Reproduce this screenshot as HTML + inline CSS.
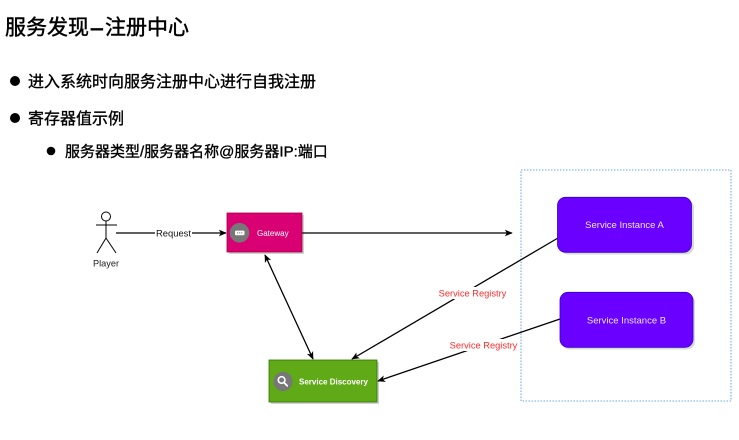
<!DOCTYPE html>
<html>
<head>
<meta charset="utf-8">
<style>
  html, body { margin:0; padding:0; background:#ffffff; }
  body { width:739px; height:440px; overflow:hidden; position:relative; }
  svg { position:absolute; left:0; top:0; }
  .cjk { font-family: "Liberation Sans", "Noto Sans CJK SC", "WenQuanYi Zen Hei", sans-serif; fill:#000; stroke:#000; stroke-width:0.35; }
  .lat { font-family: "Liberation Sans", Arial, sans-serif; }
</style>
</head>
<body>
<svg width="739" height="440" viewBox="0 0 739 440" xmlns="http://www.w3.org/2000/svg">
  <defs>
    <marker id="ah" viewBox="0 0 10 10" refX="9" refY="5" markerWidth="8" markerHeight="8" orient="auto" markerUnits="userSpaceOnUse">
      <path d="M0,0.8 L10,5 L0,9.2 L2.6,5 Z" fill="#000"/>
    </marker>
    <marker id="ahs" viewBox="0 0 10 10" refX="1" refY="5" markerWidth="8" markerHeight="8" orient="auto" markerUnits="userSpaceOnUse">
      <path d="M10,0.8 L0,5 L10,9.2 L7.4,5 Z" fill="#000"/>
    </marker>
  </defs>

  <!-- Title -->
  <text class="cjk" x="5" y="34.5" font-size="21" style="stroke-width:0.45">服务发现</text>
  <text class="cjk" x="91" y="34.5" font-size="21" style="stroke-width:0.9">–</text>
  <text class="cjk" x="105" y="34.5" font-size="21" style="stroke-width:0.45">注册中心</text>

  <!-- Bullets -->
  <circle cx="15" cy="81" r="5" fill="#000"/>
  <text class="cjk" x="28" y="87" font-size="16">进入系统时向服务注册中心进行自我注册</text>

  <circle cx="15" cy="118" r="5" fill="#000"/>
  <text class="cjk" x="28" y="124" font-size="16">寄存器值示例</text>

  <circle cx="51" cy="151" r="4.3" fill="#000"/>
  <text class="cjk" x="65" y="156.5" font-size="15">服务器类型/服务器名称@服务器IP:端口</text>

  <!-- Container (dotted) -->
  <rect x="521" y="170" width="210" height="231" fill="none" stroke="#6aa9ec" stroke-width="1.1" stroke-dasharray="1.5,1.5"/>

  <!-- Player -->
  <g stroke="#000" stroke-width="1" fill="none">
    <circle cx="106" cy="216.5" r="4.5" fill="#fff"/>
    <line x1="106" y1="221" x2="106" y2="238"/>
    <line x1="96" y1="225" x2="117" y2="225"/>
    <line x1="106" y1="238" x2="97" y2="253"/>
    <line x1="106" y1="238" x2="116" y2="253"/>
  </g>
  <text class="lat" x="106" y="266.5" font-size="9.2" text-anchor="middle" fill="#222">Player</text>

  <!-- Request edge -->
  <line x1="116" y1="233" x2="226" y2="233" stroke="#000" stroke-width="1.3" marker-end="url(#ah)"/>
  <rect x="155" y="227" width="37" height="12" fill="#fff"/>
  <text class="lat" x="173.5" y="236.3" font-size="9.4" text-anchor="middle" fill="#111">Request</text>

  <!-- Gateway -> right -->
  <line x1="302" y1="233" x2="512" y2="233" stroke="#000" stroke-width="1.3" marker-end="url(#ah)"/>

  <!-- Gateway <-> Service Discovery -->
  <line x1="265" y1="255" x2="313" y2="359" stroke="#000" stroke-width="1.3" marker-start="url(#ahs)" marker-end="url(#ah)"/>

  <!-- A -> SD -->
  <line x1="558" y1="238" x2="352" y2="359" stroke="#000" stroke-width="1.3" marker-end="url(#ah)"/>
  <!-- B -> SD -->
  <line x1="560" y1="319" x2="378" y2="381" stroke="#000" stroke-width="1.3" marker-end="url(#ah)"/>

  <!-- Registry labels -->
  <rect x="437" y="287" width="71" height="12" fill="#fff"/>
  <text class="lat" x="472.5" y="296.3" font-size="9.3" text-anchor="middle" fill="#ff2a2a">Service Registry</text>
  <rect x="448" y="339" width="71" height="12" fill="#fff"/>
  <text class="lat" x="483.5" y="348.3" font-size="9.3" text-anchor="middle" fill="#ff2a2a">Service Registry</text>

  <!-- Gateway box -->
  <rect x="229" y="215" width="75" height="39" fill="#000" opacity="0.18"/>
  <rect x="227" y="213" width="75" height="39" fill="#d80073" stroke="#a50040" stroke-width="0.8"/>
  <circle cx="239.5" cy="232.8" r="9.8" fill="#777"/>
  <rect x="235" y="230.6" width="9.5" height="4.6" rx="1" fill="#fff"/>
  <circle cx="237.6" cy="232.9" r="0.6" fill="#777"/>
  <circle cx="239.7" cy="232.9" r="0.6" fill="#777"/>
  <circle cx="241.8" cy="232.9" r="0.6" fill="#777"/>
  <text class="lat" x="257" y="236" font-size="8" fill="#fff">Gateway</text>

  <!-- Service Discovery box -->
  <rect x="271" y="362" width="108" height="42" fill="#000" opacity="0.18"/>
  <rect x="269" y="360" width="108" height="42" fill="#60a917" stroke="#2d7600" stroke-width="0.8"/>
  <circle cx="283" cy="381.5" r="9.6" fill="#777"/>
  <circle cx="281.6" cy="380" r="3.3" fill="none" stroke="#fff" stroke-width="1.6"/>
  <line x1="284" y1="382.5" x2="287.2" y2="385.8" stroke="#fff" stroke-width="1.8" stroke-linecap="round"/>
  <text class="lat" x="299" y="384.5" font-size="8" font-weight="bold" fill="#fff">Service Discovery</text>

  <!-- Service Instance A -->
  <rect x="560" y="199.5" width="134" height="55" rx="8" fill="#000" opacity="0.15"/>
  <rect x="557.5" y="197.3" width="134" height="55" rx="8" fill="#6a00ff" stroke="#3700cc" stroke-width="0.8"/>
  <text class="lat" x="624.5" y="228" font-size="9.5" text-anchor="middle" fill="#ece4ff">Service Instance A</text>

  <!-- Service Instance B -->
  <rect x="562" y="294.5" width="133" height="55" rx="8" fill="#000" opacity="0.15"/>
  <rect x="560" y="292.3" width="133" height="55" rx="8" fill="#6a00ff" stroke="#3700cc" stroke-width="0.8"/>
  <text class="lat" x="626.5" y="323.3" font-size="9.5" text-anchor="middle" fill="#ece4ff">Service Instance B</text>
</svg>
</body>
</html>
